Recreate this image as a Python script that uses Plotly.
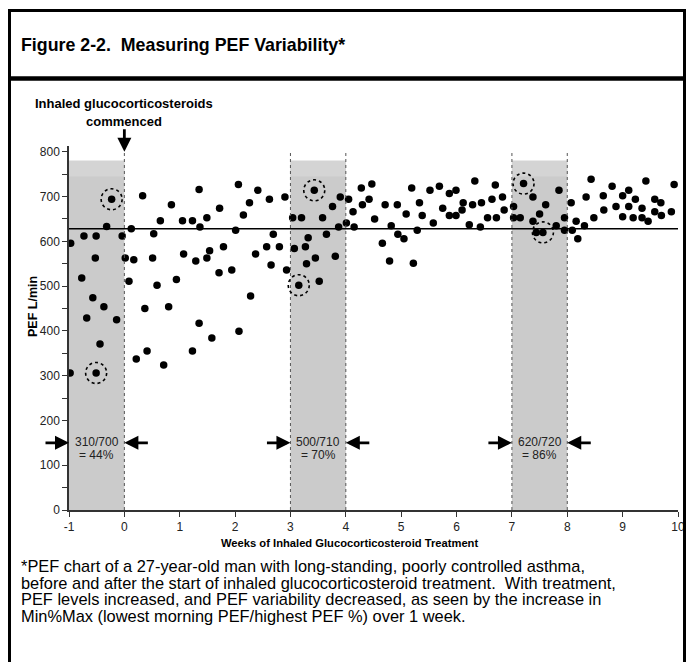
import plotly.graph_objects as go

# ---------------- data ----------------
weeks = [-0.98, -0.97, -0.77, -0.73, -0.68, -0.57, -0.525, -0.51, -0.51, -0.44, -0.37, -0.32, -0.23, -0.14, -0.04,
         0.016, 0.083, 0.125, 0.17, 0.215, 0.33, 0.37, 0.41, 0.51, 0.53, 0.59, 0.65, 0.71, 0.80, 0.85, 0.94,
         1.05, 1.07, 1.23, 1.23, 1.29, 1.35, 1.35, 1.365, 1.49, 1.49, 1.54, 1.58, 1.71, 1.72, 1.79, 1.94,
         2.01, 2.06, 2.07, 2.15, 2.26, 2.28, 2.37, 2.41, 2.57, 2.62, 2.65, 2.69, 2.80, 2.90, 2.93,
         3.04, 3.07, 3.15, 3.20, 3.27, 3.29, 3.32, 3.43, 3.45, 3.52, 3.58, 3.65, 3.76, 3.81, 3.87, 3.90,
         4.01, 4.05, 4.13, 4.15, 4.28, 4.30, 4.42, 4.47, 4.52, 4.66, 4.71, 4.79, 4.82, 4.93, 4.94,
         5.05, 5.09, 5.19, 5.22, 5.29, 5.33, 5.38, 5.52, 5.58, 5.69, 5.75, 5.87, 5.87, 5.99, 5.99,
         6.10, 6.12, 6.23, 6.29, 6.33, 6.43, 6.45, 6.56, 6.64, 6.70, 6.72, 6.83, 6.86,
         7.03, 7.03, 7.15, 7.21, 7.38, 7.38, 7.44, 7.50, 7.56, 7.61, 7.80, 7.85, 7.95, 7.95,
         8.07, 8.09, 8.16, 8.19, 8.31, 8.34, 8.43, 8.48, 8.65, 8.66, 8.81, 8.88,
         9.00, 9.00, 9.11, 9.11, 9.19, 9.23, 9.35, 9.35, 9.42, 9.46, 9.58, 9.58, 9.69, 9.70, 9.88, 9.93]
pef = [306, 596, 518, 612, 429, 474, 563, 612, 306, 371, 454, 633, 694, 425, 612,
       563, 511, 628, 559, 337, 702, 450, 355, 563, 617, 502, 646, 324, 454, 682, 515,
       646, 572, 646, 355, 556, 716, 417, 632, 653, 563, 579, 384, 530, 674, 588, 536,
       625, 727, 399, 659, 686, 478, 572, 714, 588, 694, 547, 616, 588, 699, 536,
       653, 584, 502, 653, 588, 550, 608, 714, 563, 511, 653, 616, 678, 567, 632, 699,
       641, 694, 666, 632, 719, 682, 694, 728, 650, 596, 682, 556, 635, 682, 616,
       606, 661, 719, 551, 625, 686, 658, 714, 641, 723, 674, 707, 658, 714, 658,
       670, 686, 637, 682, 735, 632, 686, 653, 694, 726, 653, 699, 670,
       678, 653, 653, 729, 699, 645, 620, 661, 620, 682, 635, 714, 653, 625,
       686, 625, 645, 606, 635, 699, 739, 653, 702, 670, 723, 678,
       702, 655, 714, 678, 653, 694, 674, 653, 735, 645, 694, 666, 686, 658, 666, 727]

circled_weeks = [-0.51, -0.23, 3.15, 3.43, 7.21, 7.56]
circled_pef = [306, 694, 502, 714, 729, 620]

reference_pef = 628
window_start = [-1, 3, 7]
window_end = [0, 4, 8]
window_ratio = ["310/700", "500/710", "620/720"]
window_pct = ["= 44%", "= 70%", "= 86%"]
window_top = 780
divider_weeks = [0, 3, 4, 7, 8]

x_ticks = [-1, 0, 1, 2, 3, 4, 5, 6, 7, 8, 9, 10]
x_tick_labels = ["-1", "0", "1", "2", "3", "4", "5", "6", "7", "8", "9", "10"]
y_ticks = [0, 100, 200, 300, 400, 500, 600, 700, 800]
y_tick_labels = ["0", "100", "200", "300", "400", "500", "600", "700", "800"]

title_text = "Figure 2-2.  Measuring PEF Variability*"
caption_lines = [
    "*PEF chart of a 27-year-old man with long-standing, poorly controlled asthma,",
    "before and after the start of inhaled glucocorticosteroid treatment.  With treatment,",
    "PEF levels increased, and PEF variability decreased, as seen by the increase in",
    "Min%Max (lowest morning PEF/highest PEF %) over 1 week.",
]

# ---------------- layout geometry (page pixels) ----------------
W, H = 687, 662
PLOT_L, PLOT_R, PLOT_T, PLOT_B = 69, 678, 146, 510   # page pixels of plot area
ML, MR, MT, MB = PLOT_L, W - PLOT_R, PLOT_T, H - PLOT_B
PW = W - ML - MR
PH = H - MT - MB
XR = [-1, 10]
YR = [0, 813]

def px(p):  # page pixel x -> paper x
    return (p - ML) / PW

def py(p):  # page pixel y -> paper y
    return (H - MB - p) / PH

SANS = "Liberation Sans, Arial, Helvetica, sans-serif"

fig = go.Figure()
fig.add_trace(go.Scatter(x=weeks, y=pef, mode="markers",
                         marker=dict(color="black", size=7.5, line=dict(width=0)),
                         hoverinfo="skip", showlegend=False))

shapes = []
for a, b in zip(window_start, window_end):
    shapes.append(dict(type="rect", xref="x", yref="y", x0=a, x1=b, y0=0, y1=window_top,
                       fillcolor="#cbcbcb", line=dict(width=0), layer="below"))
    shapes.append(dict(type="rect", xref="x", yref="y", x0=a, x1=b, y0=745, y1=window_top,
                       fillcolor="#d4d4d4", line=dict(width=0), layer="below"))
for d in divider_weeks:
    shapes.append(dict(type="line", xref="x", yref="y", x0=d, x1=d, y0=0, y1=800,
                       line=dict(color="#555", width=1, dash="dot")))
shapes.append(dict(type="line", xref="paper", yref="y", x0=0, x1=1, y0=reference_pef, y1=reference_pef,
                   line=dict(color="black", width=1.5)))

# dotted highlight circles, radius in pixels converted to data units
r_px = 10.5
dx = r_px * (XR[1] - XR[0]) / PW
dy = r_px * (YR[1] - YR[0]) / PH
for cx, cy in zip(circled_weeks, circled_pef):
    shapes.append(dict(type="circle", xref="x", yref="y", x0=cx - dx, x1=cx + dx, y0=cy - dy, y1=cy + dy,
                       line=dict(color="black", width=1.6, dash="dot")))

# frame
shapes.append(dict(type="rect", xref="paper", yref="paper", x0=px(9.5), x1=px(684.5), y0=py(720), y1=py(10.5),
                   line=dict(color="black", width=3), fillcolor="rgba(0,0,0,0)"))
shapes.append(dict(type="line", xref="paper", yref="paper", x0=px(9.5), x1=px(684.5), y0=py(78.5), y1=py(78.5),
                   line=dict(color="black", width=4.5)))

ann = []
ann.append(dict(text="<b>" + title_text + "</b>", xref="paper", yref="paper", x=px(19), y=py(45),
                xanchor="left", yanchor="middle", showarrow=False,
                font=dict(family=SANS, size=17.8, color="black")))
ann.append(dict(text="<b>Inhaled glucocorticosteroids</b>", xref="x", yref="paper", x=0, y=py(104),
                xanchor="center", yanchor="middle", showarrow=False,
                font=dict(family=SANS, size=13, color="black")))
ann.append(dict(text="<b>commenced</b>", xref="x", yref="paper", x=0, y=py(121),
                xanchor="center", yanchor="middle", showarrow=False,
                font=dict(family=SANS, size=13, color="black")))
ann.append(dict(text="", xref="x", yref="y", x=0, y=800, ax=0, ay=-24, showarrow=True,
                arrowhead=2, arrowsize=1, arrowwidth=2.8, arrowcolor="black"))

for a, b, r, p in zip(window_start, window_end, window_ratio, window_pct):
    mid = (a + b) / 2
    ann.append(dict(text=r, xref="x", yref="y", x=mid, y=152, showarrow=False,
                    font=dict(family=SANS, size=12, color="#222")))
    ann.append(dict(text=p, xref="x", yref="y", x=mid, y=122, showarrow=False,
                    font=dict(family=SANS, size=12, color="#222")))
    ann.append(dict(text="", xref="x", yref="y", x=a, y=150, ax=-25, ay=0, showarrow=True,
                    arrowhead=2, arrowsize=1, arrowwidth=2.8, arrowcolor="black"))
    ann.append(dict(text="", xref="x", yref="y", x=b, y=150, ax=25, ay=0, showarrow=True,
                    arrowhead=2, arrowsize=1, arrowwidth=2.8, arrowcolor="black"))

ann.append(dict(text="<b>PEF L/min</b>", xref="paper", yref="paper", x=px(33), y=py(307),
                xanchor="center", yanchor="middle",
                textangle=-90, showarrow=False, font=dict(family=SANS, size=12.5, color="black")))
ann.append(dict(text="<b>Weeks of Inhaled Glucocorticosteroid Treatment</b>", xref="paper", yref="paper",
                x=px(349), y=py(543), showarrow=False, xanchor="center", yanchor="middle",
                font=dict(family=SANS, size=11.2, color="black")))
for i, line in enumerate(caption_lines):
    ann.append(dict(text=line, xref="paper", yref="paper", x=px(19), y=py(566 + 16.6 * i),
                    xanchor="left", yanchor="middle", showarrow=False,
                    font=dict(family=SANS, size=16.4, color="black")))

fig.update_layout(
    width=W, height=H, autosize=False,
    margin=dict(l=ML, r=MR, t=MT, b=MB, pad=0),
    paper_bgcolor="white", plot_bgcolor="white",
    showlegend=False,
    shapes=shapes, annotations=ann,
    xaxis=dict(range=XR, tickvals=x_ticks, ticktext=x_tick_labels, ticks="outside", ticklen=5,
               tickwidth=1.2, tickcolor="#333", showline=True, linecolor="#333", linewidth=1.5,
               showgrid=False, zeroline=False, fixedrange=True, automargin=False,
               tickfont=dict(family=SANS, size=12, color="#222")),
    yaxis=dict(range=YR, tickvals=y_ticks, ticktext=y_tick_labels, ticks="outside", ticklen=5,
               tickwidth=1.2, tickcolor="#333", showline=True, linecolor="#333", linewidth=1.5,
               showgrid=False, zeroline=False, fixedrange=True, automargin=False,
               minor=dict(dtick=50, ticks="outside", ticklen=5, tickcolor="#333", tickwidth=1.2),
               tickfont=dict(family=SANS, size=12, color="#222")),
)

fig.write_html(
    "out.html",
    config={"displayModeBar": False, "responsive": False},
    post_script="document.body.style.margin='0';document.body.style.overflow='hidden';"
                "document.documentElement.style.overflow='hidden';",
)
